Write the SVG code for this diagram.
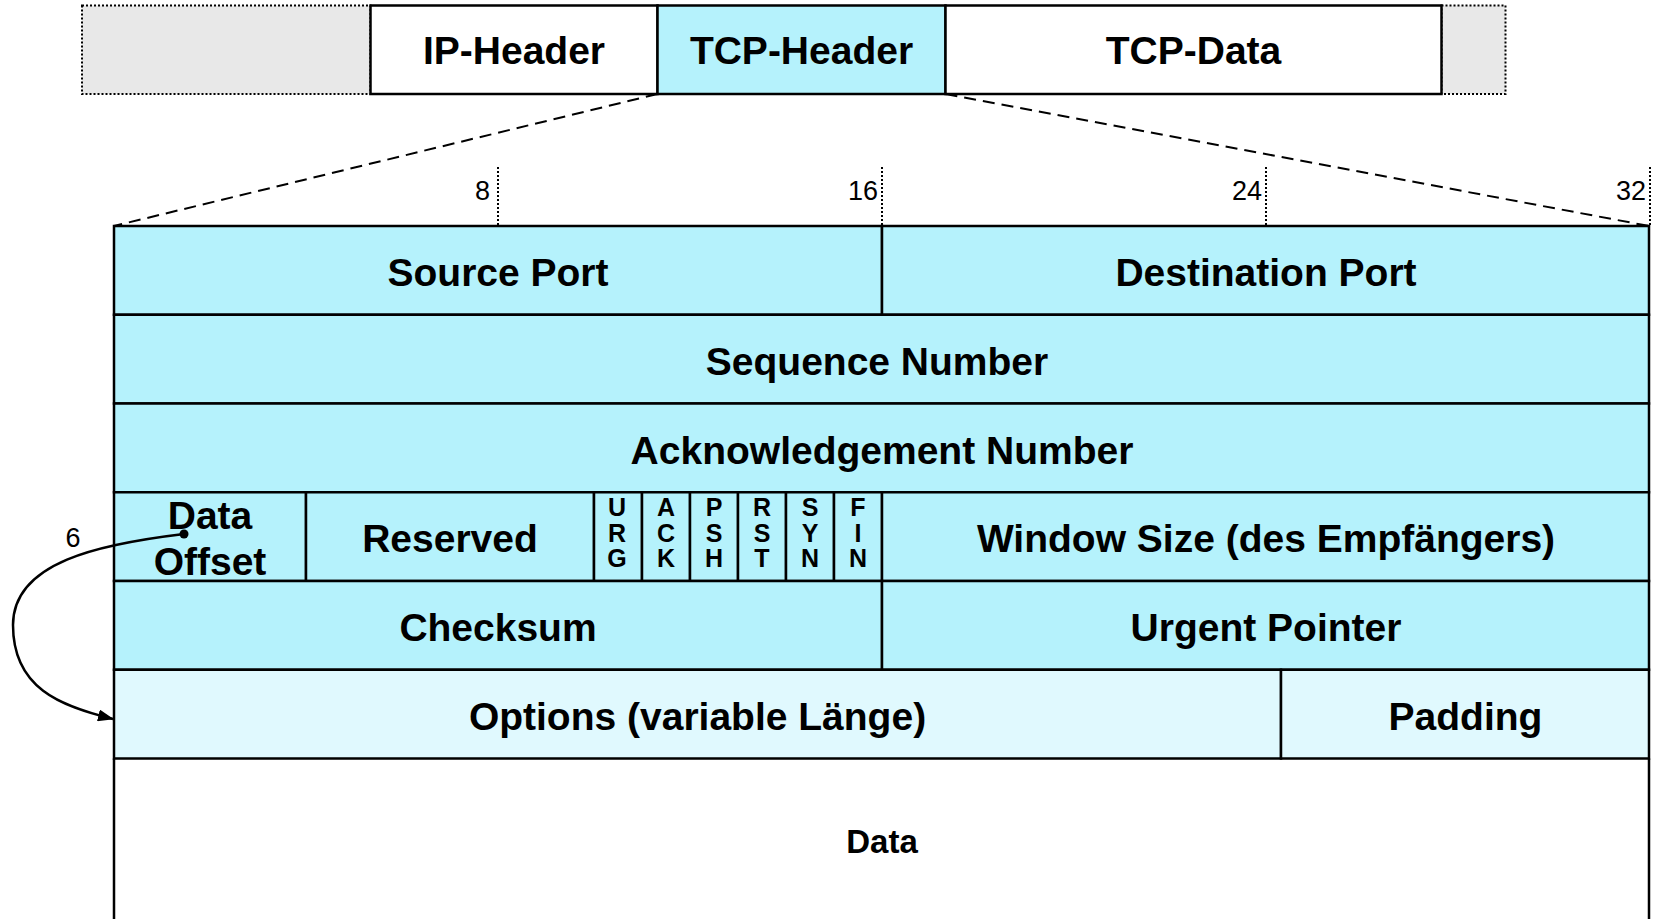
<svg xmlns="http://www.w3.org/2000/svg" width="1655" height="919" viewBox="0 0 1655 919">
<style>
  .t { font-family: "Liberation Sans", Arial, sans-serif; font-weight: bold; font-size: 39px; fill: #000; text-anchor: middle; }
  .f { font-family: "Liberation Sans", Arial, sans-serif; font-weight: bold; font-size: 25px; fill: #000; text-anchor: middle; }
  .n { font-family: "Liberation Sans", Arial, sans-serif; font-size: 27px; fill: #000; }
  .box { stroke: #000; stroke-width: 2.5; }
  .cyan { fill: #b5f2fc; }
  .light { fill: #e0f9fe; }
  .white { fill: #ffffff; }
  .gray { fill: #e8e8e8; stroke: #000; stroke-width: 2; stroke-dasharray: 2 2; }
  .dash { fill: none; stroke: #000; stroke-width: 2; stroke-dasharray: 12 7; }
  .tick { fill: none; stroke: #000; stroke-width: 2; stroke-dasharray: 2 2; }
</style>
<defs>
  <marker id="arrow" markerUnits="userSpaceOnUse" markerWidth="16" markerHeight="12" refX="15" refY="6" orient="auto">
    <path d="M0,0 L16,6 L0,12 z" fill="#000"/>
  </marker>
</defs>
<rect width="1655" height="919" fill="#ffffff"/>

<!-- top packet row -->
<g id="pre-gray"><rect class="gray" x="82" y="5.5" width="288.5" height="88.5"/></g>
<g id="post-gray"><rect class="gray" x="1441.5" y="5.5" width="64" height="88.5"/></g>
<g id="ip-header"><rect class="box white" x="370.5" y="5.5" width="287" height="88.5"/><text class="t" x="514" y="64">IP-Header</text></g>
<g id="tcp-header"><rect class="box cyan" x="657.5" y="5.5" width="288" height="88.5"/><text class="t" x="801.5" y="64">TCP-Header</text></g>
<g id="tcp-data"><rect class="box white" x="945.5" y="5.5" width="496" height="88.5"/><text class="t" x="1193.5" y="64">TCP-Data</text></g>

<!-- bit ticks -->
<g id="ticks">
  <line class="tick" x1="498" y1="167" x2="498" y2="226"/>
  <line class="tick" x1="882" y1="167" x2="882" y2="226"/>
  <line class="tick" x1="1266" y1="167" x2="1266" y2="226"/>
  <line class="tick" x1="1650" y1="167" x2="1650" y2="226"/>
  <text class="n" x="490" y="200" text-anchor="end">8</text>
  <text class="n" x="878" y="200" text-anchor="end">16</text>
  <text class="n" x="1262" y="200" text-anchor="end">24</text>
  <text class="n" x="1646" y="200" text-anchor="end">32</text>
</g>

<!-- table -->
<g id="data"><path class="box" d="M114,758.5 L114,925 M1649,758.5 L1649,925" fill="none"/><text class="t" style="font-size:33px" x="882" y="853">Data</text></g>
<g id="source-port"><rect class="box cyan" x="114" y="226" width="768" height="88.75"/><text class="t" x="498" y="285.5">Source Port</text></g>
<g id="destination-port"><rect class="box cyan" x="882" y="226" width="767" height="88.75"/><text class="t" x="1266" y="285.5">Destination Port</text></g>
<g id="sequence-number"><rect class="box cyan" x="114" y="314.75" width="1535" height="88.75"/><text class="t" x="877" y="374.5">Sequence Number</text></g>
<g id="ack-number"><rect class="box cyan" x="114" y="403.5" width="1535" height="88.75"/><text class="t" x="882" y="463.5">Acknowledgement Number</text></g>
<g id="data-offset"><rect class="box cyan" x="114" y="492.25" width="192" height="88.75"/><text class="t" x="210" y="529">Data</text><text class="t" x="210" y="574.5">Offset</text></g>
<g id="reserved"><rect class="box cyan" x="306" y="492.25" width="288" height="88.75"/><text class="t" x="450" y="552">Reserved</text></g>
<g id="urg"><rect class="box cyan" x="594" y="492.25" width="48" height="88.75"/><text class="f" x="617" y="516">U</text><text class="f" x="617" y="541.5">R</text><text class="f" x="617" y="567">G</text></g>
<g id="ack"><rect class="box cyan" x="642" y="492.25" width="48" height="88.75"/><text class="f" x="666" y="516">A</text><text class="f" x="666" y="541.5">C</text><text class="f" x="666" y="567">K</text></g>
<g id="psh"><rect class="box cyan" x="690" y="492.25" width="48" height="88.75"/><text class="f" x="714" y="516">P</text><text class="f" x="714" y="541.5">S</text><text class="f" x="714" y="567">H</text></g>
<g id="rst"><rect class="box cyan" x="738" y="492.25" width="48" height="88.75"/><text class="f" x="762" y="516">R</text><text class="f" x="762" y="541.5">S</text><text class="f" x="762" y="567">T</text></g>
<g id="syn"><rect class="box cyan" x="786" y="492.25" width="48" height="88.75"/><text class="f" x="810" y="516">S</text><text class="f" x="810" y="541.5">Y</text><text class="f" x="810" y="567">N</text></g>
<g id="fin"><rect class="box cyan" x="834" y="492.25" width="48" height="88.75"/><text class="f" x="858" y="516">F</text><text class="f" x="858" y="541.5">I</text><text class="f" x="858" y="567">N</text></g>
<g id="window-size"><rect class="box cyan" x="882" y="492.25" width="767" height="88.75"/><text class="t" x="1266" y="552">Window Size (des Empfängers)</text></g>
<g id="checksum"><rect class="box cyan" x="114" y="581" width="768" height="88.75"/><text class="t" x="498" y="641">Checksum</text></g>
<g id="urgent-pointer"><rect class="box cyan" x="882" y="581" width="767" height="88.75"/><text class="t" x="1266" y="641">Urgent Pointer</text></g>
<g id="options"><rect class="box light" x="114" y="669.75" width="1167" height="88.75"/><text class="t" x="697.5" y="729.5">Options (variable Länge)</text></g>
<g id="padding"><rect class="box light" x="1281" y="669.75" width="368" height="88.75"/><text class="t" x="1465.5" y="729.5">Padding</text></g>

<!-- connectors -->
<g id="connectors">
  <path class="dash" d="M657.5,94 L114,226"/>
  <path class="dash" d="M945.5,94 L1649,226"/>
  <path d="M184,534 C100,544 13,562 13,625 C13,688 60,706 113,719" fill="none" stroke="#000" stroke-width="2.5" marker-end="url(#arrow)"/>
  <circle cx="184" cy="534" r="4.5" fill="#000"/>
  <text class="n" x="73" y="547" text-anchor="middle">6</text>
</g>
</svg>
